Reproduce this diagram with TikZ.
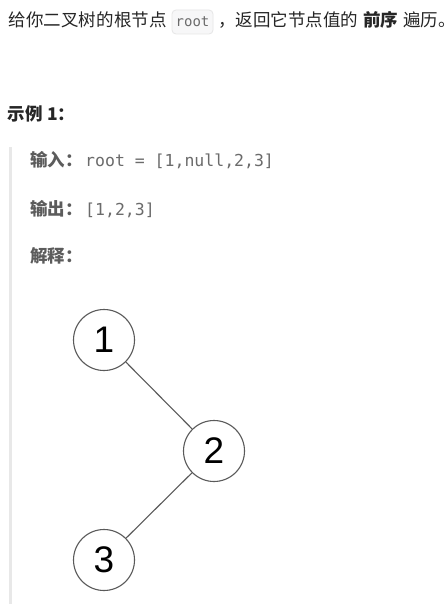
\documentclass[tikz,border=0pt]{standalone}
\usepackage{fontspec}
\newfontfamily\cjk{Noto Sans CJK SC}
\newfontfamily\codefont{DejaVu Sans Mono}
\newfontfamily\numfont{Liberation Sans}
\definecolor{bodytext}{HTML}{262626}
\definecolor{labeltext}{HTML}{5C5C5C}
\definecolor{codetext}{HTML}{6B6B6B}
\definecolor{codebg}{HTML}{F7F7F8}
\definecolor{codeborder}{HTML}{E6E6E6}
\definecolor{barcol}{HTML}{E8E8E8}
\definecolor{edgecol}{HTML}{5A5A5A}
\tikzset{
  txt/.style={anchor=base west, inner sep=0pt, outer sep=0pt, font=\cjk\fontsize{17.5}{20}\selectfont},
  treenode/.style={circle, draw=edgecol, line width=1.1pt, fill=white, minimum size=61pt, inner sep=0pt, font=\numfont\fontsize{37}{40}\selectfont},
  edge/.style={draw=edgecol, line width=1.1pt},
  codebox/.style={draw=codeborder, fill=codebg, rounded corners=4pt, line width=0.8pt}
}
\begin{document}
\begin{tikzpicture}[x=1pt,y=-1pt]
\useasboundingbox (0,0) rectangle (447,604);
\fill[white] (0,0) rectangle (447,604);
% line 1
\node[txt, text=bodytext] (l1a) at (9,27) {给你二叉树的根节点};
\draw[codebox] (172,10) rectangle (213,34);
\node[anchor=base, inner sep=0pt, font=\codefont\fontsize{14}{16}\selectfont, text=codetext] (rootcode) at (192.5,27) {root};
\node[txt, text=bodytext] (l1b) at (218,27) {，返回它节点值的};
\node[txt, text=bodytext] (l1c) at (363,27) {\bfseries 前序};
\node[txt, text=bodytext] (l1d) at (403,27) {遍历。};
% example title
\node[txt, text=bodytext] (ex) at (8,121) {\bfseries 示例 1：};
% bar
\fill[barcol] (9,147) rectangle (12,604);
% input / output
\node[txt, text=labeltext] (in) at (30,167) {\bfseries 输入：};
\node[anchor=base west, inner sep=0pt, font=\codefont\fontsize{16.5}{18}\selectfont, text=codetext] (incode) at (85,167) {root = [1,null,2,3]};
\node[txt, text=labeltext] (out) at (30,215) {\bfseries 输出：};
\node[anchor=base west, inner sep=0pt, font=\codefont\fontsize{16.5}{18}\selectfont, text=codetext] (outcode) at (85,215) {[1,2,3]};
\node[txt, text=labeltext] (expl) at (30,262) {\bfseries 解释：};
% tree
\node[treenode] (n1) at (104,340) {1};
\node[treenode] (n2) at (214,451) {2};
\node[treenode] (n3) at (104,560) {3};
\draw[edge] (n1) -- (n2);
\draw[edge] (n2) -- (n3);
\end{tikzpicture}
\end{document}
